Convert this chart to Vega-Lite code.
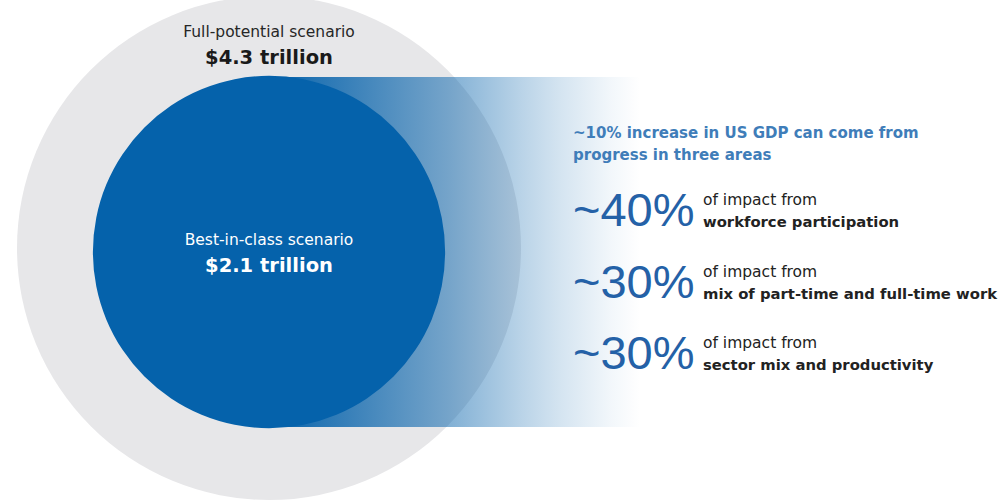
{
  "$schema": "https://vega.github.io/schema/vega-lite/v6.json",
  "width": 1008,
  "height": 501,
  "autosize": {"type": "none"},
  "padding": 0,
  "background": "white",
  "config": {"view": {"stroke": null}},
  "datasets": {
    "scenarios": [
      {"scenario": "Full-potential scenario", "trillion": 4.3, "amount": "$4.3 trillion"},
      {"scenario": "Best-in-class scenario", "trillion": 2.1, "amount": "$2.1 trillion"}
    ],
    "areas": [
      {"order": 1, "share": "~40%", "lead": "of impact from", "area": "workforce participation"},
      {"order": 2, "share": "~30%", "lead": "of impact from", "area": "mix of part-time and full-time work"},
      {"order": 3, "share": "~30%", "lead": "of impact from", "area": "sector mix and productivity"}
    ],
    "note": [
      {"headline": "~10% increase in US GDP can come from\nprogress in three areas"}
    ],
    "band": [{"part": "gradient"}]
  },
  "layer": [
    {
      "layer": [
        {
          "data": {"name": "scenarios"},
          "transform": [{"filter": "datum.scenario === 'Full-potential scenario'"}],
          "mark": {"type": "point", "shape": "circle", "filled": true, "opacity": 1, "strokeWidth": 0},
          "encoding": {
            "x": {"datum": 269, "type": "quantitative", "scale": {"domain": [0, 1008], "nice": false, "zero": false}, "axis": null},
            "y": {"datum": 248, "type": "quantitative", "scale": {"domain": [0, 501], "nice": false, "zero": false, "reverse": true}, "axis": null},
            "size": {"field": "trillion", "type": "quantitative", "scale": {"domain": [0, 4.3], "range": [0, 254016], "zero": true}, "legend": null},
            "color": {"field": "scenario", "type": "nominal", "scale": {"domain": ["Full-potential scenario", "Best-in-class scenario"], "range": ["#e7e7e9", "#0562ab"]}, "legend": null}
          }
        },
        {
          "data": {"name": "band"},
          "mark": {
            "type": "rect",
            "fill": {
              "gradient": "linear", "x1": 0, "y1": 0, "x2": 1, "y2": 0,
              "stops": [
                {"offset": 0, "color": "rgba(5,98,171,1)"},
                {"offset": 0.1, "color": "rgba(5,98,171,0.86)"},
                {"offset": 0.47, "color": "rgba(5,98,171,0.5)"},
                {"offset": 0.67, "color": "rgba(5,98,171,0.28)"},
                {"offset": 0.78, "color": "rgba(5,98,171,0.17)"},
                {"offset": 0.92, "color": "rgba(5,98,171,0.05)"},
                {"offset": 1, "color": "rgba(5,98,171,0)"}
              ]
            }
          },
          "encoding": {
            "x": {"datum": 280, "type": "quantitative", "scale": {"domain": [0, 1008], "nice": false, "zero": false}, "axis": null},
            "x2": {"datum": 640},
            "y": {"datum": 77, "type": "quantitative", "scale": {"domain": [0, 501], "nice": false, "zero": false, "reverse": true}, "axis": null},
            "y2": {"datum": 427}
          }
        },
        {
          "data": {"name": "scenarios"},
          "transform": [{"filter": "datum.scenario === 'Best-in-class scenario'"}],
          "mark": {"type": "point", "shape": "circle", "filled": true, "opacity": 1, "strokeWidth": 0},
          "encoding": {
            "x": {"datum": 269, "type": "quantitative", "scale": {"domain": [0, 1008], "nice": false, "zero": false}, "axis": null},
            "y": {"datum": 252, "type": "quantitative", "scale": {"domain": [0, 501], "nice": false, "zero": false, "reverse": true}, "axis": null},
            "size": {"field": "trillion", "type": "quantitative", "scale": {"domain": [0, 4.3], "range": [0, 254016], "zero": true}, "legend": null},
            "color": {"field": "scenario", "type": "nominal", "scale": {"domain": ["Full-potential scenario", "Best-in-class scenario"], "range": ["#e7e7e9", "#0562ab"]}, "legend": null}
          }
        },
        {
          "data": {"name": "scenarios"},
          "transform": [{"filter": "datum.scenario === 'Full-potential scenario'"}],
          "layer": [
            {
              "mark": {"type": "text", "font": "DejaVu Sans", "fontSize": 15.5, "color": "#262626", "align": "center", "baseline": "alphabetic"},
              "encoding": {
                "x": {"datum": 269, "type": "quantitative", "scale": {"domain": [0, 1008], "nice": false, "zero": false}, "axis": null},
                "y": {"datum": 37, "type": "quantitative", "scale": {"domain": [0, 501], "nice": false, "zero": false, "reverse": true}, "axis": null},
                "text": {"field": "scenario"}
              }
            },
            {
              "mark": {"type": "text", "font": "DejaVu Sans", "fontSize": 19.5, "fontWeight": "bold", "color": "#1a1a1a", "align": "center", "baseline": "alphabetic"},
              "encoding": {
                "x": {"datum": 269, "type": "quantitative", "scale": {"domain": [0, 1008], "nice": false, "zero": false}, "axis": null},
                "y": {"datum": 64, "type": "quantitative", "scale": {"domain": [0, 501], "nice": false, "zero": false, "reverse": true}, "axis": null},
                "text": {"field": "amount"}
              }
            }
          ]
        },
        {
          "data": {"name": "scenarios"},
          "transform": [{"filter": "datum.scenario === 'Best-in-class scenario'"}],
          "layer": [
            {
              "mark": {"type": "text", "font": "DejaVu Sans", "fontSize": 15.5, "color": "#ffffff", "align": "center", "baseline": "alphabetic"},
              "encoding": {
                "x": {"datum": 269, "type": "quantitative", "scale": {"domain": [0, 1008], "nice": false, "zero": false}, "axis": null},
                "y": {"datum": 245, "type": "quantitative", "scale": {"domain": [0, 501], "nice": false, "zero": false, "reverse": true}, "axis": null},
                "text": {"field": "scenario"}
              }
            },
            {
              "mark": {"type": "text", "font": "DejaVu Sans", "fontSize": 19.5, "fontWeight": "bold", "color": "#ffffff", "align": "center", "baseline": "alphabetic"},
              "encoding": {
                "x": {"datum": 269, "type": "quantitative", "scale": {"domain": [0, 1008], "nice": false, "zero": false}, "axis": null},
                "y": {"datum": 272, "type": "quantitative", "scale": {"domain": [0, 501], "nice": false, "zero": false, "reverse": true}, "axis": null},
                "text": {"field": "amount"}
              }
            }
          ]
        },
        {
          "data": {"name": "note"},
          "mark": {"type": "text", "font": "DejaVu Sans", "fontSize": 15, "fontWeight": "bold", "color": "#3f7db9", "align": "left", "baseline": "alphabetic", "lineBreak": "\n", "lineHeight": 22},
          "encoding": {
            "x": {"datum": 573, "type": "quantitative", "scale": {"domain": [0, 1008], "nice": false, "zero": false}, "axis": null},
            "y": {"datum": 138, "type": "quantitative", "scale": {"domain": [0, 501], "nice": false, "zero": false, "reverse": true}, "axis": null},
            "text": {"field": "headline"}
          }
        }
      ]
    },
    {
      "data": {"name": "areas"},
      "encoding": {
        "y": {"field": "order", "type": "quantitative", "scale": {"domain": [-2.161, 4.846], "nice": false, "zero": false, "reverse": true}, "axis": null}
      },
      "layer": [
        {
          "mark": {"type": "text", "font": "Liberation Sans", "fontSize": 47, "color": "#2461a7", "align": "left", "baseline": "alphabetic"},
          "encoding": {
            "x": {"datum": 573, "type": "quantitative", "scale": {"domain": [0, 1008], "nice": false, "zero": false}, "axis": null},
            "text": {"field": "share"}
          }
        },
        {
          "mark": {"type": "text", "font": "DejaVu Sans", "fontSize": 15.5, "color": "#222222", "align": "left", "baseline": "alphabetic", "dy": -21},
          "encoding": {
            "x": {"datum": 703, "type": "quantitative", "scale": {"domain": [0, 1008], "nice": false, "zero": false}, "axis": null},
            "text": {"field": "lead"}
          }
        },
        {
          "mark": {"type": "text", "font": "DejaVu Sans", "fontSize": 14.8, "fontWeight": "bold", "color": "#222222", "align": "left", "baseline": "alphabetic", "dy": 1},
          "encoding": {
            "x": {"datum": 703, "type": "quantitative", "scale": {"domain": [0, 1008], "nice": false, "zero": false}, "axis": null},
            "text": {"field": "area"}
          }
        }
      ]
    }
  ],
  "resolve": {"scale": {"y": "independent"}}
}
